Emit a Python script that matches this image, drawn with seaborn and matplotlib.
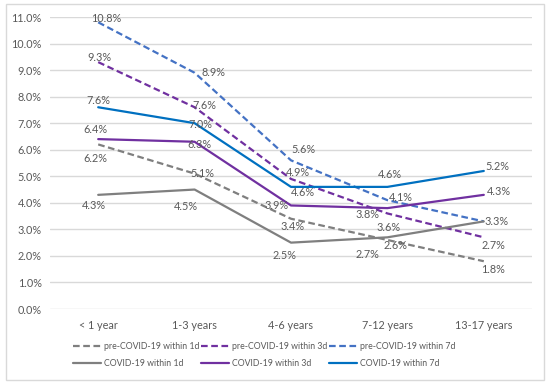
import matplotlib
matplotlib.use("Agg")
import matplotlib.pyplot as plt
import seaborn as sns
import pandas as pd
from matplotlib.patches import Rectangle
from matplotlib.lines import Line2D

categories = ["< 1 year", "1-3 years", "4-6 years", "7-12 years", "13-17 years"]
pre_1d = [6.2, 5.1, 3.4, 2.6, 1.8]
pre_3d = [9.3, 7.6, 4.9, 3.6, 2.7]
pre_7d = [10.8, 8.9, 5.6, 4.1, 3.3]
cov_1d = [4.3, 4.5, 2.5, 2.7, 3.3]
cov_3d = [6.4, 6.3, 3.9, 3.8, 4.3]
cov_7d = [7.6, 7.0, 4.6, 4.6, 5.2]
y_ticks = [0, 1, 2, 3, 4, 5, 6, 7, 8, 9, 10, 11]

series = {
    "pre-COVID-19 within 1d": pre_1d,
    "pre-COVID-19 within 3d": pre_3d,
    "pre-COVID-19 within 7d": pre_7d,
    "COVID-19 within 1d": cov_1d,
    "COVID-19 within 3d": cov_3d,
    "COVID-19 within 7d": cov_7d,
}

colors = {
    "pre-COVID-19 within 1d": "#7F7F7F",
    "pre-COVID-19 within 3d": "#7030A0",
    "pre-COVID-19 within 7d": "#4472C4",
    "COVID-19 within 1d": "#7F7F7F",
    "COVID-19 within 3d": "#7030A0",
    "COVID-19 within 7d": "#0070C0",
}
dashes = {
    "pre-COVID-19 within 1d": (3, 1.6),
    "pre-COVID-19 within 3d": (3, 1.6),
    "pre-COVID-19 within 7d": (3, 1.6),
    "COVID-19 within 1d": "",
    "COVID-19 within 3d": "",
    "COVID-19 within 7d": "",
}
# label offsets in pixels (dx right, dy down)
offsets = {
    "pre-COVID-19 within 1d": [(-3, 14), (8, 0), (2, 8), (8, 6), (9, 8)],
    "pre-COVID-19 within 3d": [(1, -5), (10, -2), (7, -6), (1, 14), (10, 8)],
    "pre-COVID-19 within 7d": [(8, -4), (19, 0), (12, -11), (13, -3), (13, 0)],
    "COVID-19 within 1d": [(-4, 11), (-9, 17), (-6, 13), (-20, 17), (13, 0)],
    "COVID-19 within 3d": [(-3, -10), (5, 3), (-14, 0), (-20, 6), (15, -3)],
    "COVID-19 within 7d": [(0, -7), (6, 1), (12, 6), (3, -12), (14, -4)],
}

rows = []
for name, vals in series.items():
    for i, v in enumerate(vals):
        rows.append({"pos": i, "value": v, "series": name})
df = pd.DataFrame(rows)

sns.set_theme(style="white")
plt.rcParams["font.family"] = ["Lato", "DejaVu Sans"]
txt = "#595959"

fig = plt.figure(figsize=(5.5, 3.85), dpi=100)
ax = fig.add_axes([50 / 550, 1 - 309 / 385, 482 / 550, 292 / 385])

fig.patches.append(Rectangle((6 / 550, 5 / 385), 538 / 550, 376 / 385, transform=fig.transFigure,
                             fill=False, edgecolor="#D9D9D9", linewidth=1.0))

for y in y_ticks:
    ax.axhline(y, color="#D9D9D9", linewidth=1.0, zorder=0)

sns.lineplot(data=df, x="pos", y="value", hue="series", style="series",
             palette=colors, dashes=dashes, linewidth=1.6, sort=False,
             legend=False, ax=ax, zorder=3)

drawn = set()
for name, vals in series.items():
    for i, v in enumerate(vals):
        dx, dy = offsets[name][i]
        key = (i, v, dx, dy)
        alpha = 0.0 if key in drawn else 1.0
        drawn.add(key)
        ax.annotate(f"{v:.1f}%", (i, v), xytext=(dx, -dy), textcoords="offset pixels",
                    ha="center", va="center", fontsize=7.8, color=txt, zorder=5, alpha=alpha)

ax.set_xlim(-0.5, 4.5)
ax.set_ylim(0, 11)
ax.set_xticks(range(len(categories)))
ax.set_xticklabels(categories)
ax.set_yticks(y_ticks)
ax.set_yticklabels([f"{t:.1f}%" for t in y_ticks])
ax.tick_params(axis="both", labelsize=7.8, colors=txt, length=0, pad=8)
ax.tick_params(axis="y", pad=6)
ax.set_xlabel("")
ax.set_ylabel("")
for s in ax.spines.values():
    s.set_visible(False)

names = list(series.keys())
order = [0, 3, 1, 4, 2, 5]
handles = []
for k in order:
    h = Line2D([], [], color=colors[names[k]], linewidth=1.6,
               linestyle="--" if dashes[names[k]] else "-")
    if dashes[names[k]]:
        h.set_dashes(dashes[names[k]])
    handles.append(h)
labels = [names[k] for k in order]
fig.legend(handles, labels, loc="center", bbox_to_anchor=(0.48, 1 - 355 / 385), ncol=3,
           frameon=False, fontsize=6.3, labelcolor=txt, handlelength=3.2,
           handletextpad=0.3, columnspacing=0.25, labelspacing=0.95)

fig.savefig("out.png", dpi=100)
